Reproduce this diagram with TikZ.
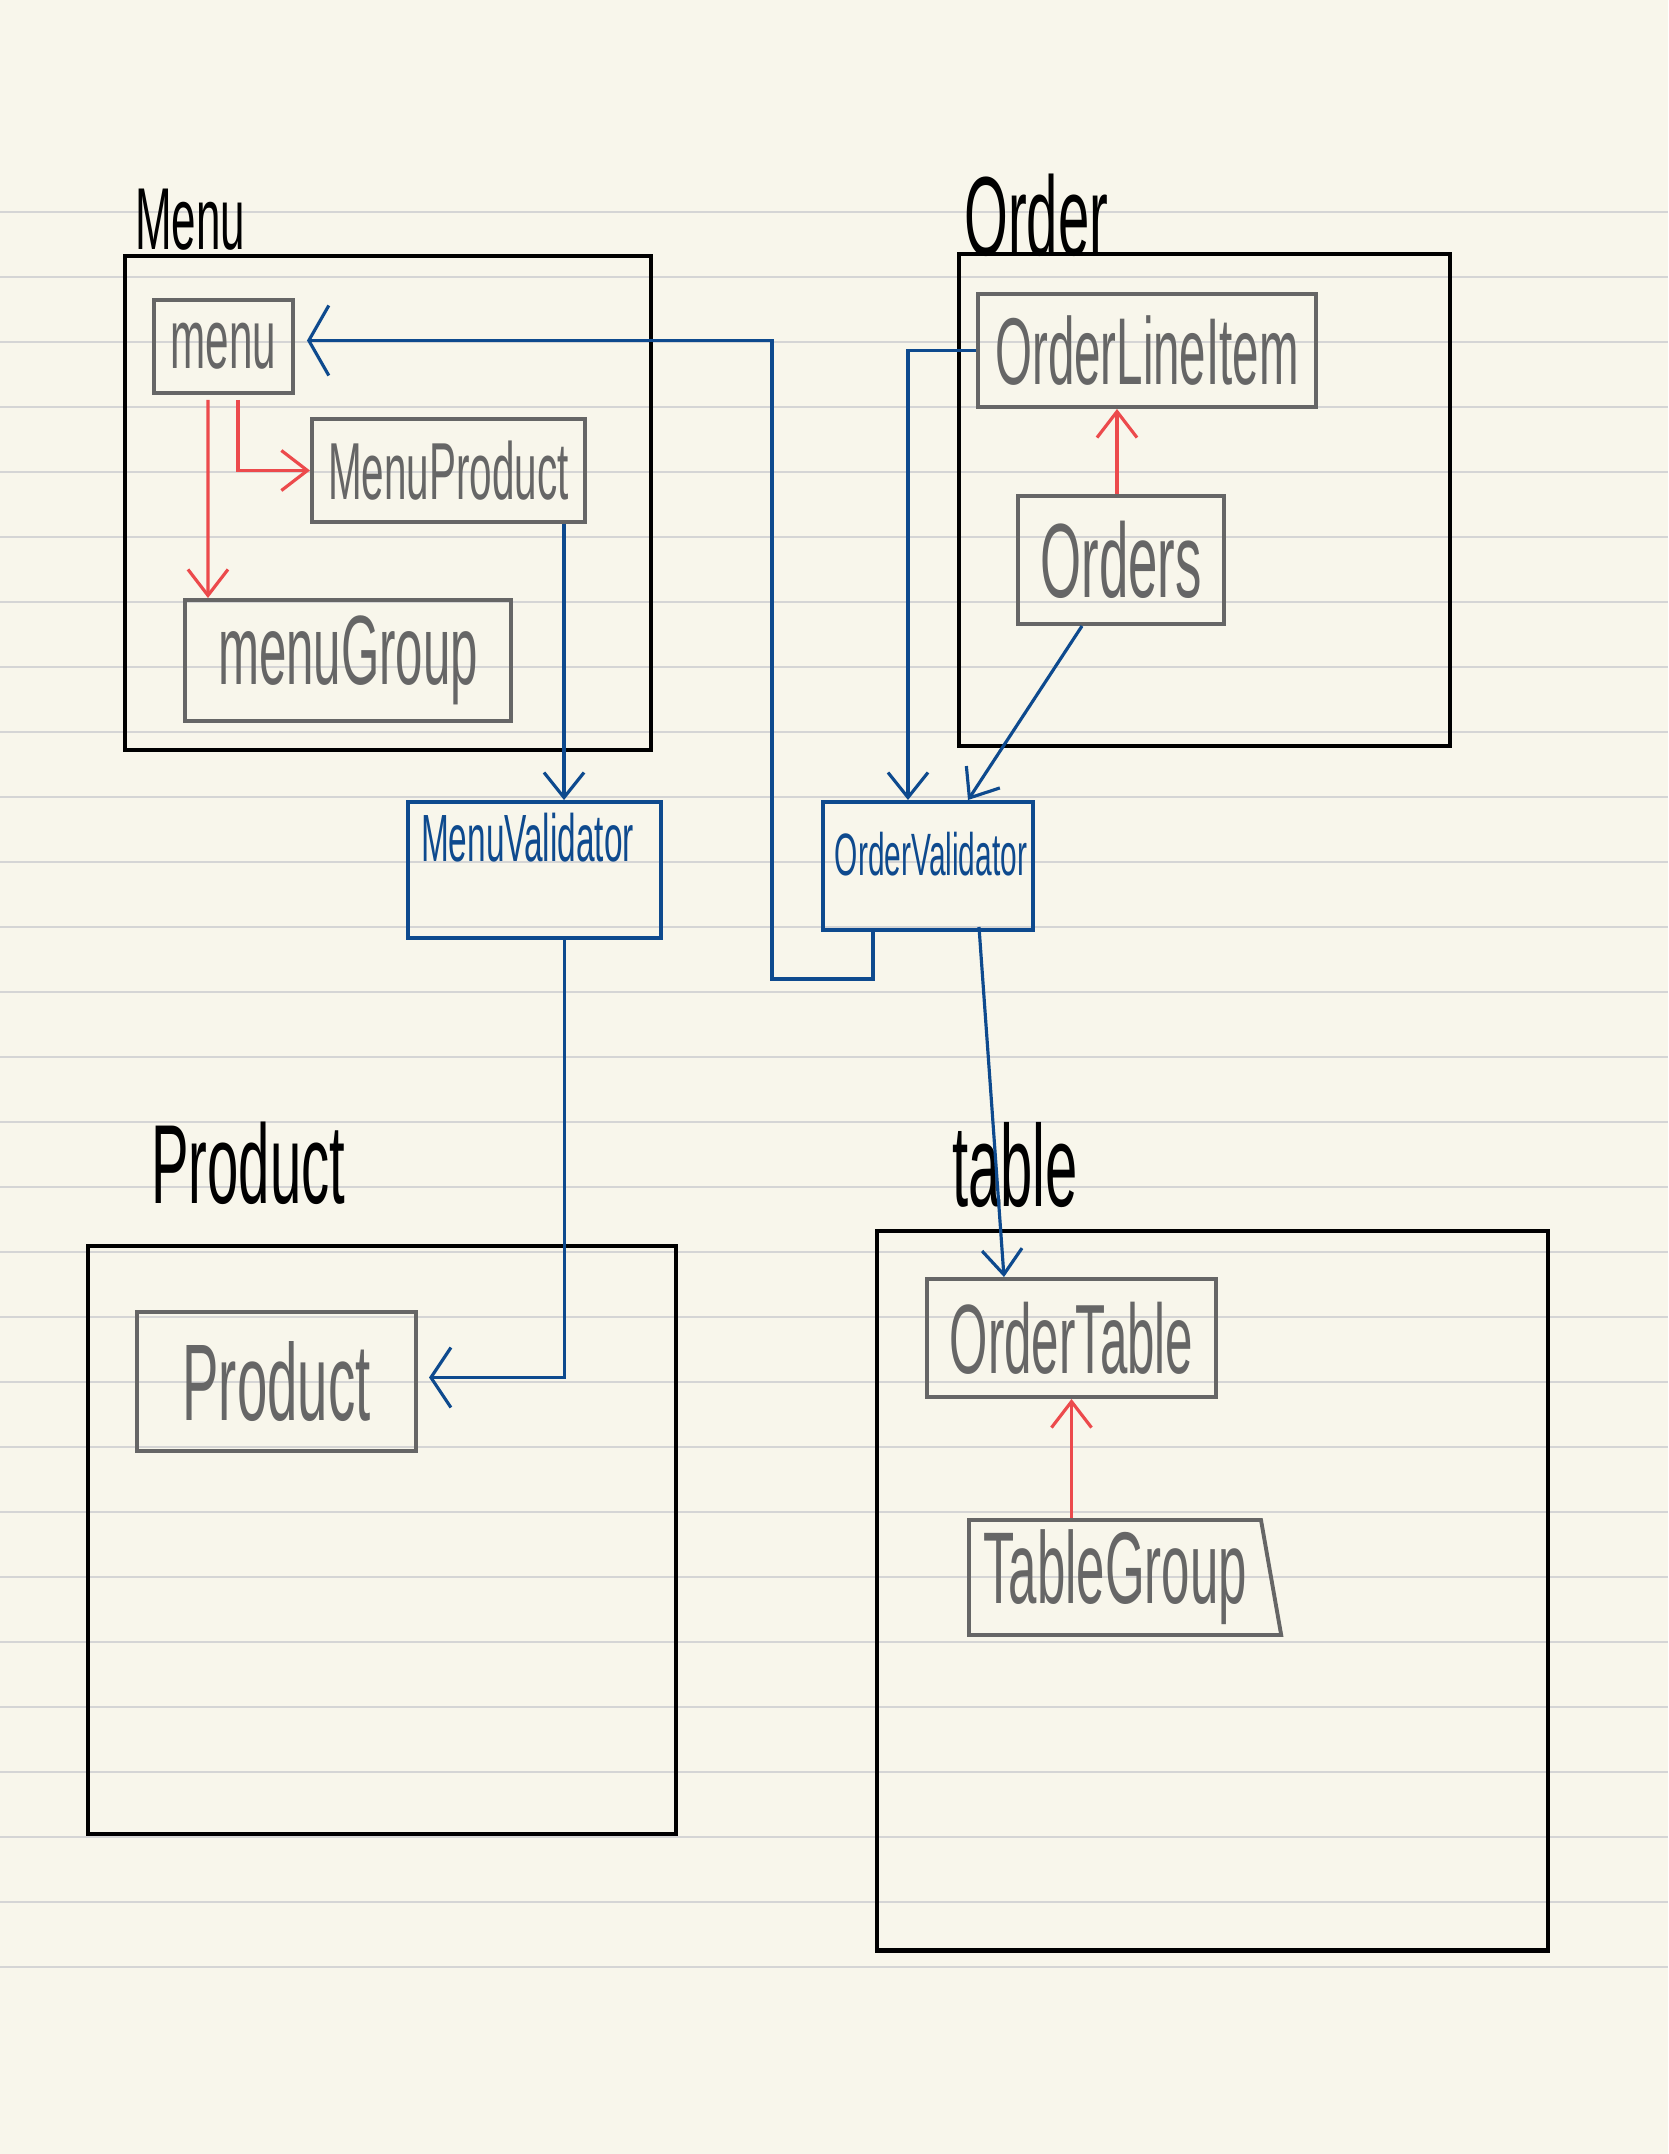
\documentclass[tikz,border=0pt]{standalone}
\usepackage{fontspec}
\newfontfamily\hand[FakeStretch=0.5]{Liberation Sans}
\usetikzlibrary{calc,arrows.meta,shapes.geometric}
\definecolor{paper}{HTML}{F8F6EB}
\definecolor{rulegray}{HTML}{D5D5D5}
\definecolor{boxgray}{HTML}{666666}
\definecolor{inkblue}{HTML}{0E4A8E}
\definecolor{inkred}{HTML}{EC4A4C}

\begin{document}
\begin{tikzpicture}[x=0.01cm, y=-0.01cm,
    area/.style={draw=black, line width=1.3pt, inner sep=0pt},
    lbl/.style={inner sep=0pt, text=black, font=\hand\fontsize{#1}{#1}\selectfont},
    cls/.style={draw=boxgray, line width=1.1pt, inner sep=0pt, text=boxgray, font=\hand\fontsize{#1}{#1}\selectfont},
    cls/.default=28,
    valid/.style={draw=inkblue, line width=1.1pt, inner sep=0pt},
    vtext/.style={inner sep=0pt, text=inkblue, font=\hand\fontsize{#1}{#1}\selectfont},
    dep/.style={draw=inkblue, line width=0.9pt, -{Straight Barb[length=2.5mm,width=4mm]}},
    own/.style={draw=inkred, line width=0.9pt, -{Straight Barb[length=2.6mm,width=4mm]}}]

% paper
\path[use as bounding box, fill=paper] (0,0) rectangle (1668,2154);
\foreach \k in {0,...,27}
    \draw[rulegray, line width=0.55pt] (0,{212+65*\k}) -- (1668,{212+65*\k});

% packages
\node[area, minimum width=5.26cm, minimum height=4.94cm] (menuarea) at (388,503) {};
\node[area, minimum width=4.91cm, minimum height=4.92cm] (orderarea) at (1204.5,500) {};
\node[area, minimum width=5.88cm, minimum height=5.88cm] (productarea) at (382,1540) {};
\node[area, minimum width=6.71cm, minimum height=7.19cm] (tablearea) at (1212.5,1590.5) {};

\node[lbl=25, anchor=base west] (menulbl) at ($(menuarea.north west)+(12,-4)$) {Menu};
\node[lbl=32, anchor=base west] (orderlbl) at ($(orderarea.north west)+(7,4)$) {Order};
\node[lbl=32, anchor=base west] (productlbl) at ($(productarea.north west)+(65,-40)$) {Product};
\node[lbl=33, anchor=base west] (tablelbl) at ($(tablearea.north west)+(77,-22)$) {table};

% classes
\node[cls=24, minimum width=1.39cm, minimum height=0.93cm] (menu) at (223.5,346.5) {menu};
\node[cls=23, minimum width=2.73cm, minimum height=1.03cm] (mp) at (448.5,470.5) {MenuProduct};
\node[cls=28, minimum width=3.26cm, minimum height=1.21cm] (mg) at (348,660.5) {menuGroup};
\node[cls=27, minimum width=3.38cm, minimum height=1.13cm] (oli) at (1147,350.5) {OrderLineItem};
\node[cls=30, minimum width=2.06cm, minimum height=1.28cm] (orders) at (1121,560) {Orders};
\node[cls=31, minimum width=2.79cm, minimum height=1.39cm] (pr) at (276.5,1381.5) {Product};
\node[cls=28, minimum width=2.89cm, minimum height=1.18cm] (ot) at (1071.5,1338) {OrderTable};
\node[cls=29, trapezium, trapezium left angle=90, trapezium right angle=78,
      trapezium stretches body, minimum width=3.12cm, minimum height=1.15cm] (tg) at (1115,1577.5) {TableGroup};

% validators
\node[valid, minimum width=2.53cm, minimum height=1.36cm] (mv) at (534.5,870) {};
\node[vtext=19, anchor=north] (mvtext) at ($(mv.north)+(-7,12)$) {MenuValidator};
\node[valid, minimum width=2.10cm, minimum height=1.28cm] (ov) at (928,866) {};
\node[vtext=17, anchor=north] (ovtext) at ($(ov.north)+(3,31)$) {OrderValidator};

% references
\coordinate (mpout) at ($(mp.south east)+(-23,0)$);
\draw[dep, -{Straight Barb[length=2mm,width=7mm]}] ($(ov.south west)+(52,0)$) -- ++(0,47) -- ++(-101,0) |- ($(menu.east)+(12,-6)$);
\draw[dep] (mpout) -- (mpout |- mv.north);
\draw[dep, -{Straight Barb[length=2mm,width=6mm]}] ($(mv.south)+(30,0)$) |- ($(pr.east)+(11,-4)$);
\draw[dep] (oli.west) -| ($(ov.north west)+(87,0)$);
\draw[dep] ($(orders.south west)+(66,0)$) -- ($(ov.north west)+(147,0)$);
\draw[dep] ($(ov.south west)+(158,-5)$) -- ($(ot.north west)+(79,0)$);

\draw[own] ($(menu.south west)+(56,5)$) -- ($(mg.north west)+(25,0)$);
\draw[own] ($(menu.south west)+(86,5)$) |- (mp.west);
\draw[own] ($(orders.north)+(-4,0)$) -- ($(oli.south)+(-30,0)$);
\draw[own] (ot.south |- tg.north) -- (ot.south);
\end{tikzpicture}
\end{document}
